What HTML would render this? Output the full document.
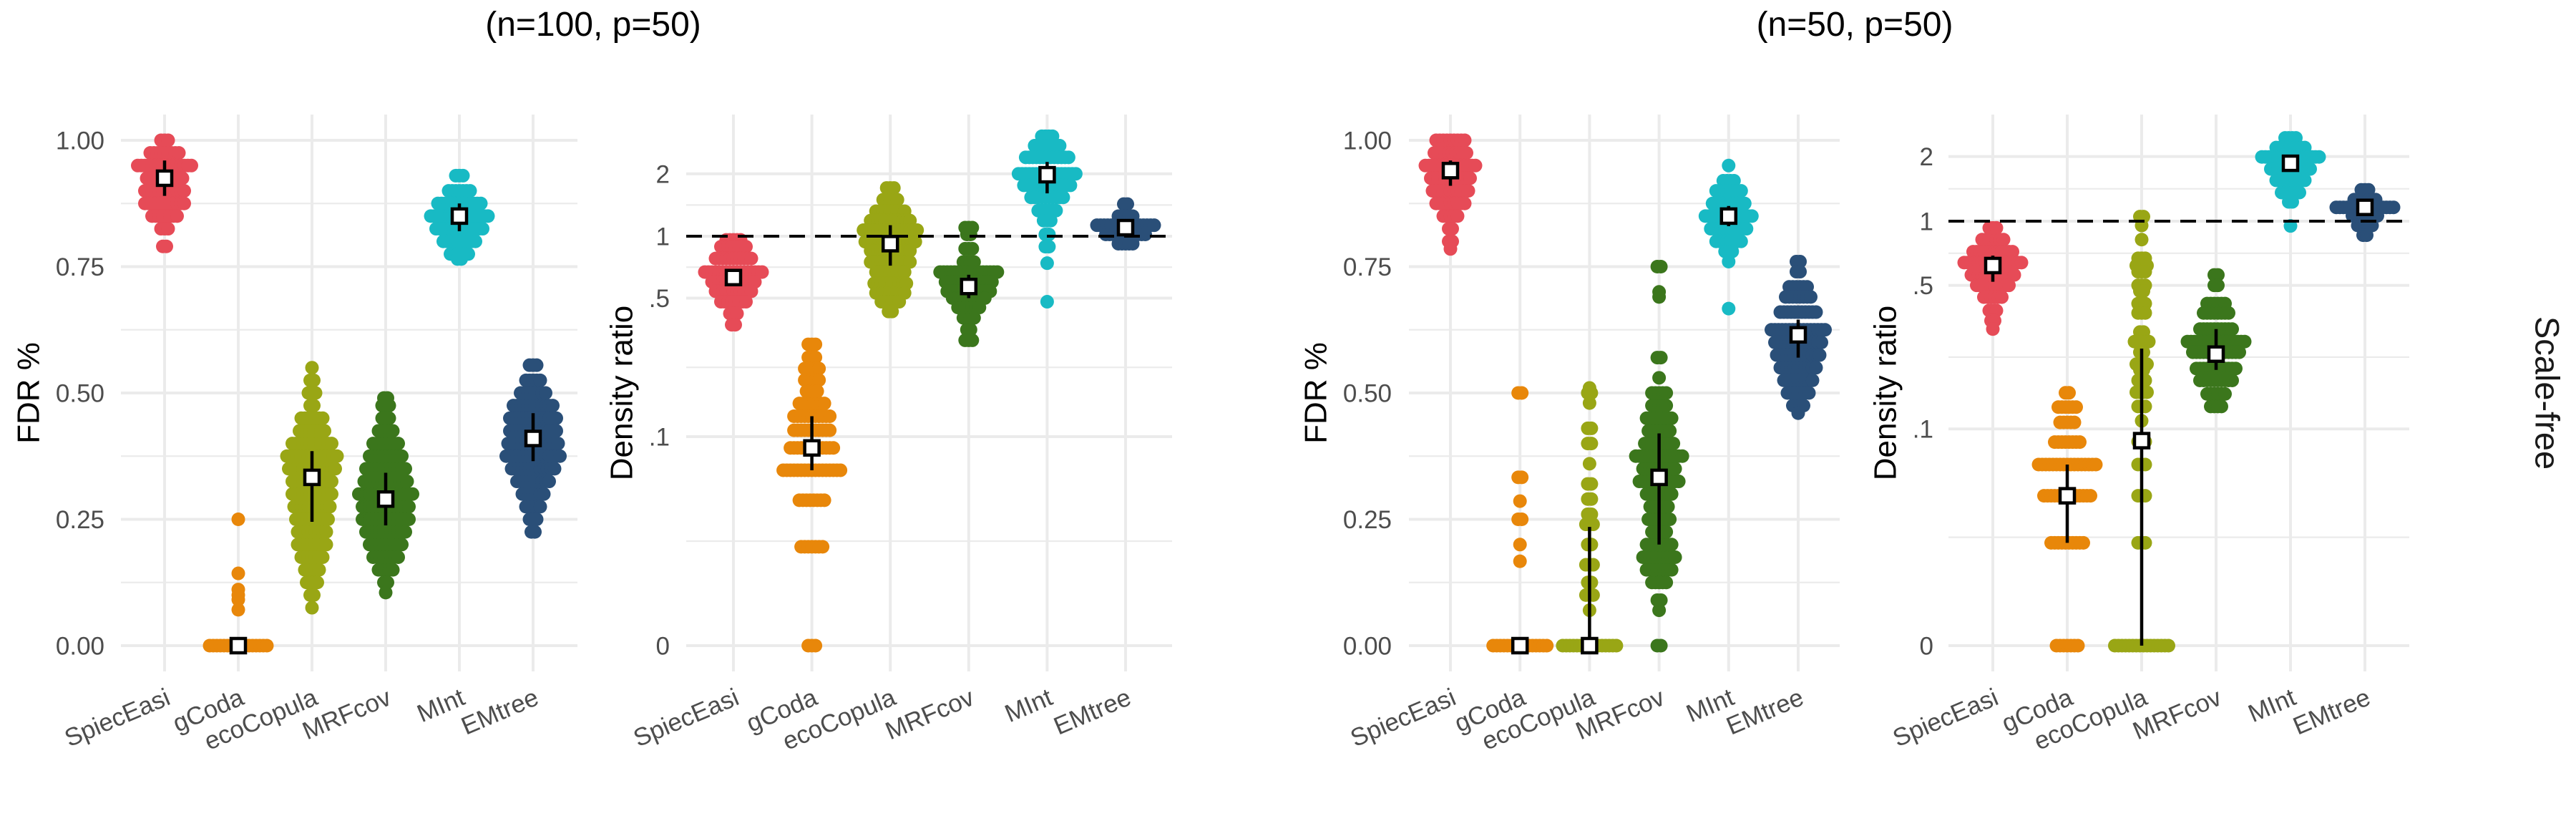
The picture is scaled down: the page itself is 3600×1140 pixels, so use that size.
<!DOCTYPE html>
<html><head><meta charset="utf-8"><style>
html,body{margin:0;padding:0;background:#fff;}
svg{display:block;font-family:"Liberation Sans",Arial,sans-serif;}
</style></head><body>
<svg id="chart" width="3600" height="1140" viewBox="0 0 3600 1140" xmlns="http://www.w3.org/2000/svg">
<rect x="0" y="0" width="3600" height="1140" fill="#fff"/>
<text x="829" y="50" font-size="48" text-anchor="middle" fill="#000">(n=100, p=50)</text>
<text x="2592" y="50" font-size="48" text-anchor="middle" fill="#000">(n=50, p=50)</text>
<text transform="translate(3560,549) rotate(90)" font-size="47" text-anchor="middle" dominant-baseline="central" fill="#1a1a1a">Scale-free</text>
</svg>
<script>
const methods = ["SpiecEasi","gCoda","ecoCopula","MRFcov","MInt","EMtree"];
const colors = ["#E64B57","#E8870A","#99A615","#3B761C","#18BAC4","#2A4F78"];

const fdrTicks = [0, 0.25, 0.5, 0.75, 1];
const fdrTickLabels = ["0.00","0.25","0.50","0.75","1.00"];
const fdrMinor = [0.125, 0.375, 0.625, 0.875];
const ratioTicks = [2, 1, 0.5, 0.1, 0];
const ratioTickLabels = ["2","1",".5",".1","0"];

// Panel 1: FDR, n=100
const p1Vals = [
 [1.0,0.975,0.95,0.925,0.9,0.875,0.85,0.825,0.79],
 [0,0.071,0.091,0.1,0.111,0.143,0.25],
 [0.55,0.525,0.5,0.475,0.45,0.425,0.4,0.375,0.35,0.325,0.3,0.275,0.25,0.225,0.2,0.175,0.15,0.125,0.1,0.075],
 [0.49,0.475,0.45,0.425,0.4,0.375,0.35,0.325,0.3,0.275,0.25,0.225,0.2,0.175,0.15,0.125,0.105],
 [0.93,0.9,0.875,0.85,0.825,0.8,0.775,0.765],
 [0.555,0.525,0.5,0.475,0.45,0.425,0.4,0.375,0.35,0.325,0.3,0.275,0.25,0.225]
];
const p1Counts = [
 [3,9,16,11,12,12,8,3,2],
 [17,1,1,1,1,1,1],
 [1,2,3,2,7,8,12,15,14,12,12,11,10,9,9,7,5,4,2,1],
 [2,3,3,5,8,10,12,13,16,14,14,12,10,8,5,2,1],
 [3,7,13,17,14,10,6,2],
 [3,5,8,12,14,14,15,16,13,10,7,5,3,2]
];
const p1Mean = [0.925,0,0.333,0.29,0.85,0.41];
const p1Lo = [0.89,0,0.245,0.238,0.82,0.365];
const p1Hi = [0.96,0,0.385,0.342,0.875,0.46];

// Panel 2: Density ratio, n=100
const p2Vals = [
 [0.96,0.89,0.78,0.67,0.60,0.54,0.48,0.42,0.37],
 [0.296,0.255,0.224,0.196,0.172,0.149,0.128,0.108,0.087,0.0656,0.044,0.0219,0],
 [1.71,1.5,1.32,1.19,1.07,0.94,0.85,0.75,0.67,0.59,0.53,0.48,0.43],
 [1.1,1.02,0.87,0.75,0.67,0.6,0.54,0.5,0.45,0.4,0.35,0.31],
 [3.03,2.73,2.4,2.0,1.76,1.54,1.33,1.19,1.02,0.89,0.74,0.48],
 [1.43,1.25,1.13,1.02,0.92]
];
const p2Counts = [
 [5,8,11,17,13,11,8,3,2],
 [3,3,5,5,4,8,11,11,13,17,8,7,3],
 [3,5,9,12,16,15,12,12,9,10,9,6,2],
 [3,2,3,4,17,14,13,10,7,4,2,3],
 [4,8,13,17,14,10,6,3,2,2,1,1],
 [2,5,17,12,5]
];
const p2Mean = [0.63,0.087,0.92,0.57,1.98,1.10];
const p2Lo = [0.6,0.0656,0.72,0.50,1.61,1.05];
const p2Hi = [0.67,0.128,1.13,0.65,2.28,1.16];

// Panel 3: FDR, n=50
const p3Vals = [
 [1.0,0.975,0.95,0.925,0.9,0.875,0.85,0.825,0.8,0.785],
 [0,0.167,0.2,0.25,0.286,0.333,0.5],
 [0,0.07,0.1,0.125,0.16,0.2,0.24,0.26,0.29,0.32,0.36,0.4,0.43,0.48,0.5,0.51],
 [0,0.07,0.09,0.125,0.15,0.175,0.2,0.225,0.25,0.275,0.3,0.325,0.35,0.375,0.4,0.425,0.45,0.475,0.5,0.53,0.57,0.69,0.7,0.75],
 [0.95,0.92,0.9,0.875,0.85,0.825,0.8,0.78,0.76,0.667],
 [0.76,0.74,0.71,0.69,0.66,0.625,0.6,0.575,0.55,0.525,0.5,0.475,0.46]
];
const p3Counts = [
 [9,10,15,12,11,9,5,2,2,1],
 [16,1,1,2,1,2,2],
 [16,1,3,2,3,2,3,2,2,2,1,2,2,1,2,1],
 [2,1,2,5,8,10,8,5,7,6,8,12,10,14,9,7,8,5,5,1,2,1,1,2],
 [1,4,8,10,14,11,8,3,1,1],
 [2,2,6,8,11,16,14,13,11,9,7,4,1]
];
const p3Mean = [0.94,0,0,0.333,0.85,0.615];
const p3Lo = [0.91,0,0,0.2,0.83,0.57];
const p3Hi = [0.96,0,0.235,0.42,0.87,0.645];

// Panel 4: Density ratio, n=50
const p4Vals = [
 [0.93,0.82,0.72,0.64,0.56,0.5,0.44,0.38,0.34,0.31],
 [0.152,0.129,0.108,0.0855,0.065,0.0435,0.022,0],
 [1.05,0.955,0.82,0.67,0.62,0.58,0.5,0.47,0.41,0.37,0.3,0.27,0.24,0.21,0.197,0.175,0.153,0.13,0.11,0.086,0.065,0.0435,0.022,0],
 [0.56,0.5,0.41,0.37,0.31,0.27,0.24,0.2,0.175,0.15,0.13],
 [2.44,2.2,1.99,1.75,1.55,1.36,1.23,0.95],
 [1.4,1.26,1.16,1.06,0.955,0.86]
];
const p4Counts = [
 [3,7,12,17,13,10,6,3,2,1],
 [2,6,5,8,17,14,10,7],
 [2,1,1,3,4,3,3,2,3,3,2,5,2,4,2,3,4,3,1,3,3,3,3,16],
 [2,2,6,8,10,17,14,12,10,6,4],
 [4,9,17,12,9,6,2,1],
 [3,7,17,8,5,2]
];
const p4Mean = [0.62,0.0435,0.087,0.235,1.86,1.16];
const p4Lo = [0.52,0.022,0,0.197,1.78,1.06];
const p4Hi = [0.69,0.065,0.25,0.31,1.95,1.26];

const NS = "http://www.w3.org/2000/svg";
const svg = document.getElementById("chart");
function mk(tag, attrs, parent) {
  const e = document.createElementNS(NS, tag);
  for (const k in attrs) e.setAttribute(k, attrs[k]);
  (parent || svg).appendChild(e);
  return e;
}
const C = 0.0111;
function linScale(v) { return 902 - v * 706; }
function logScaleFactory(y1) {
  const k = (902 - y1) / Math.log10((1 + C) / C);
  return v => y1 - k * Math.log10((v + C) / (1 + C));
}
function invLog(t) { return Math.pow(10, t) - C; }

const panels = [
  {id:"p1", x0:230, step:103, hx:[169,807], yTitle:"FDR %", titleX:40, labR:146, log:false, vals:p1Vals, counts:p1Counts, mean:p1Mean, lo:p1Lo, hi:p1Hi},
  {id:"p2", x0:1025, step:109.6, hx:[959,1638], yTitle:"Density ratio", titleX:869, labR:936, log:true, y1:330, vals:p2Vals, counts:p2Counts, mean:p2Mean, lo:p2Lo, hi:p2Hi},
  {id:"p3", x0:2027, step:97.2, hx:[1969,2571], yTitle:"FDR %", titleX:1839, labR:1945, log:false, vals:p3Vals, counts:p3Counts, mean:p3Mean, lo:p3Lo, hi:p3Hi},
  {id:"p4", x0:2785, step:104, hx:[2723,3367], yTitle:"Density ratio", titleX:2635, labR:2702, log:true, y1:309, vals:p4Vals, counts:p4Counts, mean:p4Mean, lo:p4Lo, hi:p4Hi}
];

panels.forEach(p => {
  const g = mk("g", {});
  
  
  const yS = p.log ? logScaleFactory(p.y1) : linScale;
  const xS = i => p.x0 + i * p.step;
  const ticks = p.log ? ratioTicks : fdrTicks;
  const tickLabels = p.log ? ratioTickLabels : fdrTickLabels;
  let minors;
  if (p.log) {
    minors = [];
    for (let i = 0; i < ratioTicks.length - 1; i++) {
      const a = Math.log10(ratioTicks[i] + C), b = Math.log10(ratioTicks[i+1] + C);
      minors.push(invLog((a + b) / 2));
    }
  } else minors = fdrMinor;
  minors.forEach(v => {
    const l = mk("line", {x1:p.hx[0], x2:p.hx[1], y1:yS(v), y2:yS(v), stroke:"#ebebeb", "stroke-width":2.2}, g);
    
    
  });
  ticks.forEach((v, i) => {
    const l = mk("line", {x1:p.hx[0], x2:p.hx[1], y1:yS(v), y2:yS(v), stroke:"#ebebeb", "stroke-width":4}, g);
    
    
    const t = mk("text", {x:p.labR, y:yS(v) + 12.5, "font-size":35, "text-anchor":"end", fill:"#4d4d4d"}, g);
    t.textContent = tickLabels[i];
    
    
  });
  methods.forEach((m, i) => {
    const l = mk("line", {x1:xS(i), x2:xS(i), y1:160, y2:938, stroke:"#ebebeb", "stroke-width":4}, g);
    
    
    const ax = xS(i) + 10, ay = 983;
    const t = mk("text", {x:ax, y:ay, "font-size":35, "text-anchor":"end", fill:"#4d4d4d", transform:"rotate(-23 " + ax + " " + ay + ")"}, g);
    t.textContent = m;
    
    
  });
  const yt = mk("text", {transform:"translate(" + p.titleX + ",549) rotate(-90)", "font-size":44, "text-anchor":"middle", "dominant-baseline":"central", fill:"#000"}, g);
  yt.textContent = p.yTitle;
  
  
  methods.forEach((m, i) => {
    const sg = mk("g", {fill:colors[i]}, g);
    
    
    p.vals[i].forEach((v, j) => {
      const n = p.counts[i][j];
      for (let k = 0; k < n; k++) {
        const c = mk("circle", {cx:xS(i) + (k - (n - 1) / 2) * 5, cy:yS(v), r:9.5}, sg);
        
        
      }
    });
  });
  if (p.log) {
    const d = mk("line", {x1:p.hx[0], x2:p.hx[1], y1:yS(1), y2:yS(1), stroke:"#000", "stroke-width":4, "stroke-dasharray":"22 14"}, g);
    
    
  }
  methods.forEach((m, i) => {
    const e = mk("line", {x1:xS(i), x2:xS(i), y1:yS(p.lo[i]), y2:yS(p.hi[i]), stroke:"#000", "stroke-width":4.5}, g);
    
    
    const s = mk("rect", {x:xS(i) - 10, y:yS(p.mean[i]) - 10, width:20, height:20, fill:"#fff", stroke:"#000", "stroke-width":4.5}, g);
    
    
  });
});
</script>
</body></html>
